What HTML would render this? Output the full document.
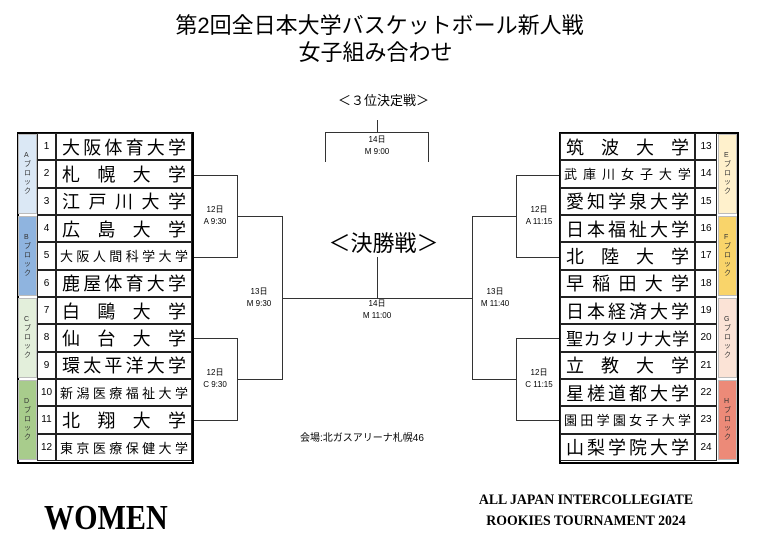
<!DOCTYPE html>
<html><head><meta charset="utf-8"><style>
body{margin:0;width:767px;height:549px;background:#fff;position:relative;overflow:hidden;font-family:"Liberation Sans","Noto Sans CJK JP",sans-serif;color:#000}
.a{position:absolute}
.t{position:absolute;left:0;width:767px;text-align:center;font-size:22px;line-height:26px}
.tbl{position:absolute;top:132px;height:328px;border:2px solid #000;background:#fff}
.cell{position:absolute;border:1.5px solid #222;box-sizing:border-box;background:#fff}
.nm{display:flex;justify-content:space-between;align-items:center;padding:0 4px}
.num{font-size:10px;display:flex;align-items:center;justify-content:center}
.blk{font-size:7px;display:flex;flex-direction:column;align-items:center;justify-content:center;line-height:9px;color:#333}
.lbl{position:absolute;font-size:8px;text-align:center;line-height:12px;width:60px}
</style></head><body>
<div class="t" style="top:13px;left:-4px">第2回全日本大学バスケットボール新人戦</div>
<div class="t" style="top:40px;left:-8px">女子組み合わせ</div>
<div class="t" style="top:93px;font-size:13px;line-height:16px">＜３位決定戦＞</div>
<div class="t" style="top:230px;font-size:22px;line-height:28px">＜決勝戦＞</div>
<div class="a" style="left:300px;top:429px;font-size:10px">会場:北ガスアリーナ札幌46</div>

<svg class="a" style="left:0;top:0" width="767" height="549">
<g stroke="#333" stroke-width="1" fill="none">
<path d="M193 175.5H237.5V257.5H193"/>
<path d="M193 338.5H237.5V420.5H193"/>
<path d="M237.5 216.5H282.5V379.5H237.5"/>
<path d="M282.5 298.5H472.5"/>
<path d="M559 175.5H516.5V257.5H559"/>
<path d="M559 338.5H516.5V420.5H559"/>
<path d="M516.5 216.5H472.5V379.5H516.5"/>
<path d="M377.5 257V298"/>
<path d="M377.5 120V132.5M325.5 162V132.5H428.5V162"/>
</g></svg>
<div class="lbl" style="left:185px;top:204px">12日<br>A 9:30</div>
<div class="lbl" style="left:185px;top:367px">12日<br>C 9:30</div>
<div class="lbl" style="left:229px;top:286px">13日<br>M 9:30</div>
<div class="lbl" style="left:347px;top:298px">14日<br>M 11:00</div>
<div class="lbl" style="left:347px;top:134px">14日<br>M 9:00</div>
<div class="lbl" style="left:465px;top:286px">13日<br>M 11:40</div>
<div class="lbl" style="left:509px;top:204px">12日<br>A 11:15</div>
<div class="lbl" style="left:509px;top:367px">12日<br>C 11:15</div>

<div id="L"></div><div id="R"></div>

<div class="a" style="left:44px;top:498px;font-family:'Liberation Serif',serif;font-weight:bold;font-size:35px;line-height:40px;transform:scaleX(0.86);transform-origin:left top">WOMEN</div>
<div class="a" style="left:464px;top:490px;width:244px;text-align:center;font-family:'Liberation Serif',serif;font-weight:bold;font-size:15px;line-height:21px;transform:scaleX(0.92);transform-origin:center top">ALL JAPAN INTERCOLLEGIATE<br>ROOKIES TOURNAMENT 2024</div>

<script>
const rowH=27.33;
const small=["大阪人間科学大学","新潟医療福祉大学","東京医療保健大学","武庫川女子大学","園田学園女子大学"];
function build(side){
 const L=side==='L';
 const names=L?["大阪体育大学","札幌大学","江戸川大学","広島大学","大阪人間科学大学","鹿屋体育大学","白鷗大学","仙台大学","環太平洋大学","新潟医療福祉大学","北翔大学","東京医療保健大学"]
 :["筑波大学","武庫川女子大学","愛知学泉大学","日本福祉大学","北陸大学","早稲田大学","日本経済大学","聖カタリナ大学","立教大学","星槎道都大学","園田学園女子大学","山梨学院大学"];
 const blocks=L?[["A","#dbe8f5"],["B","#8fb4df"],["C","#e3efdb"],["D","#a8cc8c"]]:[["E","#fff1cc"],["F","#f9d46a"],["G","#fbe3d6"],["H","#ec8a78"]];
 let h='';
 const x0=L?17:559, w=L?177:180;
 h+=`<div class="tbl" style="left:${x0}px;width:${w-4}px"></div>`;
 const blkX=L?18:718, numX=L?37:695, nmX=L?56:560, nmW=L?136:135, numW=L?19:22, blkW=19;
 for(let i=0;i<12;i++){
  const y=133+i*rowH;
  const n=names[i];
  const sm=small.includes(n);
  const fs=sm?13:(n.length==7?17:18);
  const pad=sm?3:5;
  const chars=[...n].map(c=>`<span>${c}</span>`).join('');
  h+=`<div class="cell nm" style="left:${nmX}px;top:${y}px;width:${nmW}px;height:${rowH}px;font-size:${fs}px;padding:0 ${pad}px">${chars}</div>`;
  h+=`<div class="cell num" style="left:${numX}px;top:${y}px;width:${numW}px;height:${rowH}px">${L?i+1:i+13}</div>`;
 }
 for(let b=0;b<4;b++){
  const y=133+b*3*rowH;
  h+=`<div class="cell blk" style="left:${blkX}px;top:${y+1}px;width:${blkW}px;height:${3*rowH-2}px;background:${blocks[b][1]};border:1px solid #bbb">${blocks[b][0]}<br>ブ<br>ロ<br>ッ<br>ク</div>`;
 }
 document.getElementById(side).innerHTML=h;
}
build('L');build('R');
</script>
</body></html>
